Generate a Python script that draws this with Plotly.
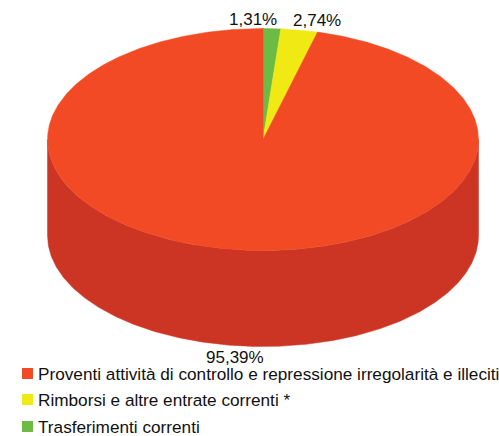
import math
import plotly.graph_objects as go

categories = ["Trasferimenti correnti", "Rimborsi e altre entrate correnti *",
              "Proventi attività di controllo e repressione irregolarità e illeciti"]
values = [1.31, 2.74, 95.39]
labels = ["1,31%", "2,74%", "95,39%"]
top_colors = ["#6CBB45", "#F0E914", "#F24A24"]
side_colors = ["#559A36", "#C4BE10", "#CC3524"]
legend_order = [2, 1, 0]

W, H = 499, 436
CX, CY, RX, RY, DEPTH = 263, 139.5, 215.5, 111, 96
label_pos = [(253, 19), (317, 20), (235, 357)]
legend_y = [373.5, 399.5, 426.5]

total = sum(values)


def pt(deg, dy=0):
    a = math.radians(deg)
    return CX + RX * math.sin(a), CY - RY * math.cos(a) + dy


def arc(a0, a1, dy=0):
    n = max(2, int(abs(a1 - a0) * 2))
    return [pt(a0 + (a1 - a0) * i / n, dy) for i in range(n + 1)]


fig = go.Figure()


def poly(points, color):
    fig.add_trace(go.Scatter(
        x=[p[0] for p in points] + [points[0][0]],
        y=[p[1] for p in points] + [points[0][1]],
        mode="lines", fill="toself", fillcolor=color,
        line=dict(color=color, width=0.5),
        hoverinfo="skip", showlegend=False))


spans = []
start = 0.0
for v in values:
    end = start + v / total * 360
    spans.append((start, end))
    start = end

# side wall: only the front half of the cylinder is visible
for (a0, a1), c in zip(spans, side_colors):
    lo, hi = max(a0, 90), min(a1, 270)
    if hi > lo:
        poly(arc(lo, hi) + arc(hi, lo, DEPTH), c)

# top face
for (a0, a1), c in zip(spans, top_colors):
    poly([(CX, CY)] + arc(a0, a1), c)

fig.update_layout(
    width=W, height=H, margin=dict(l=0, r=0, t=0, b=0),
    paper_bgcolor="white", plot_bgcolor="white", showlegend=False,
    xaxis=dict(range=[0, W], visible=False, fixedrange=True),
    yaxis=dict(range=[H, 0], visible=False, fixedrange=True),
    font=dict(family="Liberation Sans", color="#111111"),
)

for (x, y), t in zip(label_pos, labels):
    fig.add_annotation(x=x, y=y, text=t, showarrow=False, xanchor="center", yanchor="middle",
                       font=dict(size=17))

fig.add_trace(go.Scatter(
    x=[27.5] * 3, y=legend_y, mode="markers",
    marker=dict(symbol="square", size=11, color=[top_colors[i] for i in legend_order]),
    hoverinfo="skip", showlegend=False))
for y, i in zip(legend_y, legend_order):
    fig.add_annotation(x=35.5, y=y, text=categories[i], showarrow=False, xanchor="left", yanchor="middle",
                       font=dict(size=17.2))

fig.write_html("out.html", config=dict(displayModeBar=False),
               post_script="document.body.style.margin='0';document.body.style.overflow='hidden';")
